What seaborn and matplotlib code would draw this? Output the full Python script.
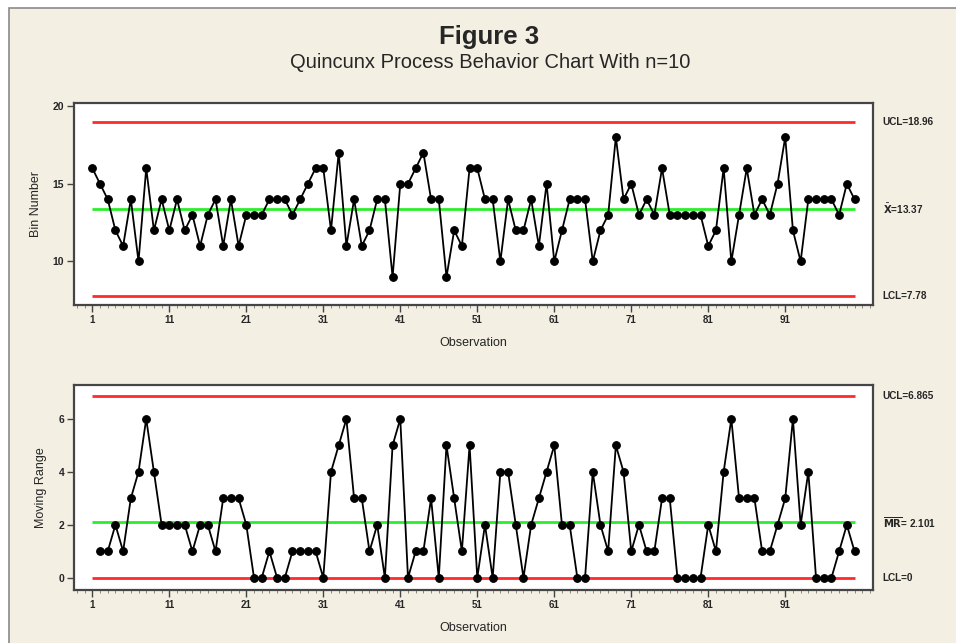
import numpy as np
import pandas as pd
import matplotlib
matplotlib.use("Agg")
import matplotlib.pyplot as plt
import seaborn as sns
from matplotlib.patches import Rectangle
from matplotlib.ticker import FixedLocator, MultipleLocator

# ---- data ----
bin_number = [16, 15, 14, 12, 11, 14, 10, 16, 12, 14,
              12, 14, 12, 13, 11, 13, 14, 11, 14, 11,
              13, 13, 13, 14, 14, 14, 13, 14, 15, 16,
              16, 12, 17, 11, 14, 11, 12, 14, 14, 9,
              15, 15, 16, 17, 14, 14, 9, 12, 11, 16,
              16, 14, 14, 10, 14, 12, 12, 14, 11, 15,
              10, 12, 14, 14, 14, 10, 12, 13, 18, 14,
              15, 13, 14, 13, 16, 13, 13, 13, 13, 13,
              11, 12, 16, 10, 13, 16, 13, 14, 13, 15,
              18, 12, 10, 14, 14, 14, 14, 13, 15, 14]
moving_range = [1, 1, 2, 1, 3, 4, 6, 4, 2,
                2, 2, 2, 1, 2, 2, 1, 3, 3, 3,
                2, 0, 0, 1, 0, 0, 1, 1, 1, 1,
                0, 4, 5, 6, 3, 3, 1, 2, 0, 5,
                6, 0, 1, 1, 3, 0, 5, 3, 1, 5,
                0, 2, 0, 4, 4, 2, 0, 2, 3, 4,
                5, 2, 2, 0, 0, 4, 2, 1, 5, 4,
                1, 2, 1, 1, 3, 3, 0, 0, 0, 0,
                2, 1, 4, 6, 3, 3, 3, 1, 1, 2,
                3, 6, 2, 4, 0, 0, 0, 1, 2, 1]
obs_i = list(range(1, 101))
obs_mr = list(range(2, 101))

i_limits = {"UCL": 18.96, "CL": 13.37, "LCL": 7.78}
mr_limits = {"UCL": 6.865, "CL": 2.101, "LCL": 0.0}
x_ticks = [1, 11, 21, 31, 41, 51, 61, 71, 81, 91]
i_yticks = [10, 15, 20]
mr_yticks = [0, 2, 4, 6]

df_i = pd.DataFrame({"Observation": obs_i, "Value": bin_number})
df_mr = pd.DataFrame({"Observation": obs_mr, "Value": moving_range})

# ---- figure ----
sns.set_style("ticks")
plt.rcParams["font.family"] = ["Liberation Sans", "DejaVu Sans"]

W, H = 956, 643
fig = plt.figure(figsize=(W / 100, H / 100), dpi=100)
fig.patch.set_facecolor("white")
bg = Rectangle((9 / W, -0.05), 1.1, 1.05 - 8 / H, transform=fig.transFigure,
               facecolor="#F3EFE3", edgecolor="#8a8a8a", linewidth=1.2, zorder=-10)
fig.patches.append(bg)


def px_axes(left, top, right, bottom):
    return fig.add_axes([left / W, 1 - bottom / H, (right - left) / W, (bottom - top) / H])


ax1 = px_axes(74, 103, 873, 305)
ax2 = px_axes(74, 385, 873, 590)

frame_color = "#454545"


def draw(ax, df, limits, yticks, ylim, ylabel, labels):
    ax.set_facecolor("white")
    ax.hlines([limits["UCL"], limits["LCL"]], 1, 100, colors="#FF2A2A", linewidth=2.0, zorder=1)
    ax.hlines(limits["CL"], 1, 100, colors="#2BEE2B", linewidth=2.0, zorder=1)
    sns.lineplot(data=df, x="Observation", y="Value", ax=ax, color="black",
                 linewidth=1.3, marker="o", markersize=5.5, markeredgecolor="black",
                 markeredgewidth=0.8, zorder=3)
    ax.set_xlim(-1.38, 102.4)
    ax.set_ylim(*ylim)
    ax.xaxis.set_major_locator(FixedLocator(x_ticks))
    ax.xaxis.set_minor_locator(MultipleLocator(1))
    ax.set_yticks(yticks)
    ax.set_xticklabels([str(t) for t in x_ticks], fontsize=7, fontweight="bold")
    ax.set_yticklabels([str(t) for t in yticks], fontsize=7.5, fontweight="bold")
    ax.tick_params(axis="both", which="major", direction="out", length=5, width=1.0,
                   color=frame_color, pad=2)
    ax.tick_params(axis="x", which="minor", direction="out", length=2, width=0.6,
                   color="#777777")
    for s in ax.spines.values():
        s.set_visible(True)
        s.set_color(frame_color)
        s.set_linewidth(1.6)
    ax.set_xlabel("Observation", fontsize=9, labelpad=9)
    ax.set_ylabel(ylabel, fontsize=9, labelpad=8)
    ax.grid(False)
    tr = ax.get_yaxis_transform()
    for key, txt in labels:
        ax.text(1.012, limits[key], txt, transform=tr, fontsize=7.2, fontweight="bold",
                va="center", ha="left", clip_on=False)


draw(ax1, df_i, i_limits, i_yticks, (7.2, 20.2), "Bin Number",
     [("UCL", "UCL=18.96"), ("CL", r"$\bar{\mathbf{X}}$=13.37"), ("LCL", "LCL=7.78")])
draw(ax2, df_mr, mr_limits, mr_yticks, (-0.46, 7.28), "Moving Range",
     [("UCL", "UCL=6.865"), ("CL", r"$\overline{\mathbf{MR}}$= 2.101"), ("LCL", "LCL=0")])

fig.text(489 / W, 1 - 37 / H, "Figure 3", ha="center", va="center",
         fontsize=18.5, fontweight="bold")
fig.text(490 / W, 1 - 63 / H, "Quincunx Process Behavior Chart With n=10",
         ha="center", va="center", fontsize=14.5)

fig.savefig("out.png", dpi=100, facecolor=fig.get_facecolor())
